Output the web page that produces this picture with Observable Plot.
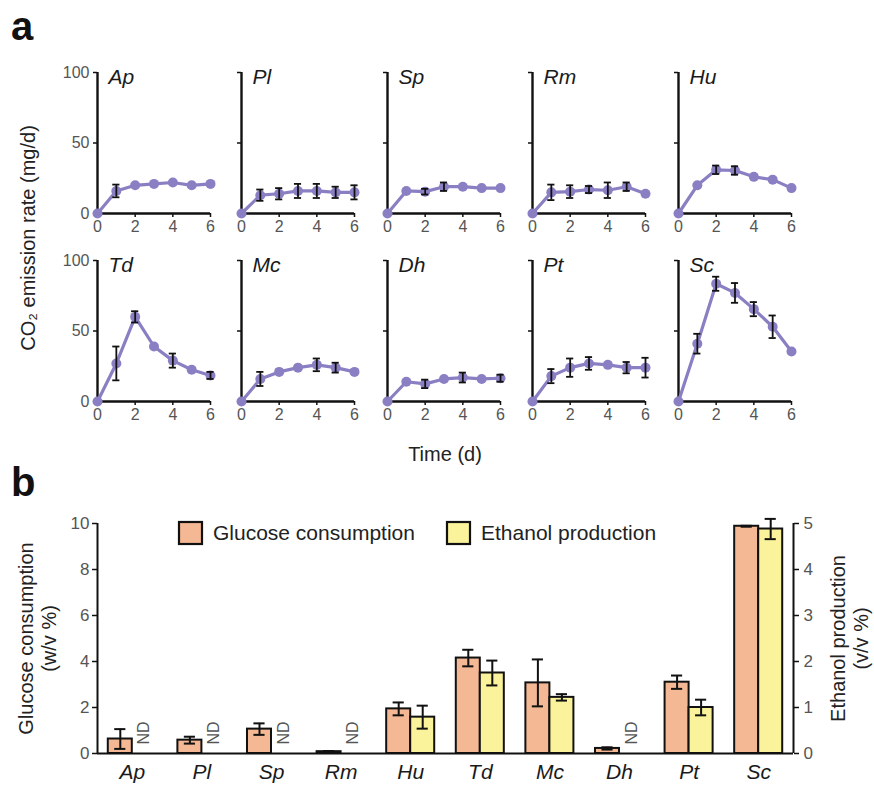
<!DOCTYPE html>
<html>
<head>
<meta charset="utf-8">
<script src="https://cdn.jsdelivr.net/npm/d3@7"></script>
<script src="https://cdn.jsdelivr.net/npm/@observablehq/plot@0.6"></script>
<style>
  html, body { margin: 0; padding: 0; background: #fff; }
  #root { position: relative; width: 874px; height: 787px; overflow: hidden; background: #fff; }
  #root > svg { position: absolute; }
</style>
</head>
<body>
<div id="root"></div>
<script>
// ---------- DATA ----------
const days = [0, 1, 2, 3, 4, 5, 6];
const xTicks = [0, 2, 4, 6];
const yTicks = [0, 50, 100];
const species = ["Ap", "Pl", "Sp", "Rm", "Hu", "Td", "Mc", "Dh", "Pt", "Sc"];

// Panel a: CO2 emission rate (mg/d), mean and error per day
const co2Ap = [0, 16, 20, 21, 22, 20, 21];
const errAp = [0, 4.5, 0, 0, 0, 0, 0];
const co2Pl = [0, 13, 14, 16, 16, 15, 15];
const errPl = [0, 4, 4, 5, 5, 4, 5];
const co2Sp = [0, 16, 15.5, 19, 19, 18, 18];
const errSp = [0, 0, 2, 3, 0, 0, 0];
const co2Rm = [0, 15, 15.5, 17, 16.5, 19, 14];
const errRm = [0, 5.5, 4.5, 2.5, 5.5, 3, 0];
const co2Hu = [0, 20, 31, 30.5, 26, 24, 18];
const errHu = [0, 0, 3, 3, 0, 0, 0];
const co2Td = [0, 27, 60, 39, 29, 22.5, 18.5];
const errTd = [0, 12, 4, 0, 5, 0, 2.5];
const co2Mc = [0, 16, 21, 24, 26, 24, 21];
const errMc = [0, 5, 0, 0, 4.5, 3.5, 0];
const co2Dh = [0, 14, 12.5, 16, 17, 16, 16.5];
const errDh = [0, 0, 3, 0, 3.5, 0, 2.5];
const co2Pt = [0, 18, 24, 27, 26, 24, 24];
const errPt = [0, 5, 6.5, 4.5, 0, 4, 7];
const co2Sc = [0, 41, 83.5, 77, 65.5, 53, 35.5];
const errSc = [0, 7, 5, 7, 5, 8, 0];

// Panel b: glucose consumption (w/v %) and ethanol production (v/v %); null = ND
const glucose    = [0.63, 0.58, 1.06, 0.08, 1.94, 4.15, 3.07, 0.22, 3.10, 9.88];
const glucoseErr = [0.43, 0.15, 0.25, 0.03, 0.28, 0.36, 1.02, 0.05, 0.29, 0.02];
const ethanol    = [null, null, null, null, 0.79, 1.75, 1.22, null, 1.00, 4.88];
const ethanolErr = [null, null, null, null, 0.25, 0.27, 0.07, null, 0.17, 0.22];
const glucoseTicks = [0, 2, 4, 6, 8, 10];
const ethanolTicks = [0, 1, 2, 3, 4, 5];

// ---------- STYLE / LAYOUT ----------
const FONT = "'Liberation Sans', Arial, Helvetica, sans-serif";
const PURPLE = "#8b7fc3";
const ORANGE = "#f5b894";
const YELLOW = "#faf39b";
const INK = "#111";
const TICKTEXT = "#555";
const root = document.getElementById("root");

const series = {
  Ap: [co2Ap, errAp], Pl: [co2Pl, errPl], Sp: [co2Sp, errSp], Rm: [co2Rm, errRm], Hu: [co2Hu, errHu],
  Td: [co2Td, errTd], Mc: [co2Mc, errMc], Dh: [co2Dh, errDh], Pt: [co2Pt, errPt], Sc: [co2Sc, errSc]
};
const colOrigin = [97, 241, 387, 532, 678];
const rowTop = [60, 248];

function smallPlot(name, idx) {
  const [vals, errs] = series[name];
  const col = idx % 5, row = Math.floor(idx / 5);
  const data = days.map((d, i) => ({day: d, v: vals[i], e: errs[i]}));
  const eb = data.filter(d => d.e > 0);
  const capW = 0.19;
  const svg = Plot.plot({
    width: 165, height: 183,
    marginLeft: 40, marginRight: 12, marginTop: 12, marginBottom: 30,
    style: {background: "transparent", fontFamily: FONT, overflow: "visible"},
    x: {domain: [0, 6], label: null},
    y: {domain: [0, 100], label: null},
    marks: [
      Plot.axisX({ticks: xTicks, tickFormat: d => String(d), tickSize: 4, tickPadding: 3, stroke: INK, strokeWidth: 1.5,
                  fill: TICKTEXT, fontSize: 16, label: null}),
      Plot.axisY({ticks: yTicks, tickSize: 4, tickPadding: 4, stroke: INK, strokeWidth: 1.5,
                  fill: TICKTEXT, fontSize: 16, label: null,
                  tickFormat: col === 0 ? (d => String(d)) : (() => "")}),
      Plot.ruleY([0], {stroke: INK, strokeWidth: 2.4}),
      Plot.ruleX([0], {stroke: INK, strokeWidth: 2.4}),
      Plot.line(data, {x: "day", y: "v", stroke: PURPLE, strokeWidth: 3.2}),
      Plot.dot(data, {x: "day", y: "v", r: 5, fill: PURPLE}),
      Plot.ruleX(eb, {x: "day", y1: d => d.v - d.e, y2: d => d.v + d.e, stroke: INK, strokeWidth: 1.8}),
      Plot.ruleY(eb, {y: d => d.v + d.e, x1: d => d.day - capW, x2: d => d.day + capW, stroke: INK, strokeWidth: 1.8}),
      Plot.ruleY(eb, {y: d => d.v - d.e, x1: d => d.day - capW, x2: d => d.day + capW, stroke: INK, strokeWidth: 1.8}),
      Plot.text([name], {frameAnchor: "top-left", dx: 11, dy: -3, lineAnchor: "top", textAnchor: "start",
                         fontSize: 21, fontStyle: "italic", fill: "#1a1a1a"})
    ]
  });
  svg.style.left = (colOrigin[col] - 40) + "px";
  svg.style.top = rowTop[row] + "px";
  root.appendChild(svg);
}
species.forEach((s, i) => smallPlot(s, i));

// ---------- PANEL b ----------
const bdata = species.map((s, i) => ({i, s, g: glucose[i], ge: glucoseErr[i], e: ethanol[i], ee: ethanolErr[i]}));
const eth = bdata.filter(d => d.e != null);
const nd = bdata.filter(d => d.e == null);
const bw = 0.345;      // bar width in category units
const cap = 0.08;      // error cap half width
const scaleE = glucoseTicks[glucoseTicks.length - 1] / ethanolTicks[ethanolTicks.length - 1];

const barPlot = Plot.plot({
  width: 874, height: 289,
  marginLeft: 97, marginRight: 81, marginTop: 23, marginBottom: 36,
  style: {background: "transparent", fontFamily: FONT, overflow: "visible"},
  x: {domain: [-0.5, species.length - 0.5], label: null},
  y: {domain: [0, 10], label: null},
  marks: [
    Plot.rectY(bdata, {x1: d => d.i - bw, x2: d => d.i, y1: 0, y2: "g", fill: ORANGE, stroke: INK, strokeWidth: 2}),
    Plot.rectY(eth, {x1: d => d.i, x2: d => d.i + bw, y1: 0, y2: d => d.e * scaleE, fill: YELLOW, stroke: INK, strokeWidth: 2}),
    // glucose error bars
    Plot.ruleX(bdata, {x: d => d.i - bw / 2, y1: d => d.g - d.ge, y2: d => d.g + d.ge, stroke: INK, strokeWidth: 2}),
    Plot.ruleY(bdata, {y: d => d.g + d.ge, x1: d => d.i - bw / 2 - cap, x2: d => d.i - bw / 2 + cap, stroke: INK, strokeWidth: 2}),
    Plot.ruleY(bdata, {y: d => d.g - d.ge, x1: d => d.i - bw / 2 - cap, x2: d => d.i - bw / 2 + cap, stroke: INK, strokeWidth: 2}),
    // ethanol error bars
    Plot.ruleX(eth, {x: d => d.i + bw / 2, y1: d => (d.e - d.ee) * scaleE, y2: d => (d.e + d.ee) * scaleE, stroke: INK, strokeWidth: 2}),
    Plot.ruleY(eth, {y: d => (d.e + d.ee) * scaleE, x1: d => d.i + bw / 2 - cap, x2: d => d.i + bw / 2 + cap, stroke: INK, strokeWidth: 2}),
    Plot.ruleY(eth, {y: d => (d.e - d.ee) * scaleE, x1: d => d.i + bw / 2 - cap, x2: d => d.i + bw / 2 + cap, stroke: INK, strokeWidth: 2}),
    // ND labels
    Plot.text(nd, {x: d => d.i + bw / 2, y: 0, text: () => "ND", rotate: -90, textAnchor: "start",
                   dy: -9, fontSize: 16, fill: TICKTEXT}),
    // axis lines
    Plot.ruleY([0], {stroke: INK, strokeWidth: 2}),
    Plot.ruleX([-0.5], {stroke: INK, strokeWidth: 2}),
    Plot.ruleX([species.length - 0.5], {stroke: INK, strokeWidth: 2}),
    Plot.axisY({anchor: "left", ticks: glucoseTicks, tickFormat: d => String(d), tickSize: 5, tickPadding: 3, stroke: INK, strokeWidth: 1.5,
                fill: TICKTEXT, fontSize: 17, label: null}),
    Plot.axisY({anchor: "right", ticks: ethanolTicks.map(v => v * scaleE), tickFormat: d => String(d / scaleE),
                tickSize: 5, tickPadding: 5, stroke: INK, strokeWidth: 1.5, fill: TICKTEXT, fontSize: 17, label: null}),
    Plot.axisX({ticks: species.map((s, i) => i), tickFormat: i => species[i], tickSize: 0, tickPadding: 11,
                fontSize: 21, fontStyle: "italic", fill: "#1a1a1a", label: null}),
    Plot.text(["Glucose consumption\n(w/v %)"], {frameAnchor: "left", rotate: -90, dx: -60, lineHeight: 1.15,
                textAnchor: "middle", fontSize: 20, fill: "#222"}),
    Plot.text(["Ethanol production\n(v/v %)"], {frameAnchor: "right", rotate: -90, dx: 56, lineHeight: 1.12,
                textAnchor: "middle", fontSize: 20, fill: "#222"})
  ]
});
barPlot.style.left = "0px";
barPlot.style.top = "500px";
root.appendChild(barPlot);

// ---------- OVERLAY TEXT (panel letters, shared titles, legend) ----------
const ov = d3.create("svg").attr("width", 874).attr("height", 787)
  .style("left", "0px").style("top", "0px").style("pointer-events", "none")
  .style("font-family", FONT);
ov.append("text").attr("x", 11).attr("y", 40).attr("font-size", 40).attr("font-weight", "bold").attr("fill", "#111").text("a");
ov.append("text").attr("x", 11).attr("y", 496).attr("font-size", 40).attr("font-weight", "bold").attr("fill", "#111").text("b");
ov.append("text").attr("transform", "translate(28,238) rotate(-90)").attr("text-anchor", "middle")
  .attr("dominant-baseline", "central").attr("font-size", 20).attr("fill", "#222")
  .text("CO\u2082 emission rate (mg/d)");
ov.append("text").attr("x", 445).attr("y", 461).attr("text-anchor", "middle").attr("font-size", 20).attr("fill", "#222").text("Time (d)");

const legendItems = [
  {label: "Glucose consumption", fill: ORANGE, x: 179},
  {label: "Ethanol production", fill: YELLOW, x: 447}
];
legendItems.forEach(it => {
  ov.append("rect").attr("x", it.x).attr("y", 522).attr("width", 23).attr("height", 22)
    .attr("fill", it.fill).attr("stroke", INK).attr("stroke-width", 2.2);
  ov.append("text").attr("x", it.x + 34).attr("y", 540).attr("font-size", 21).attr("fill", "#222").text(it.label);
});
root.appendChild(ov.node());
</script>
</body>
</html>
